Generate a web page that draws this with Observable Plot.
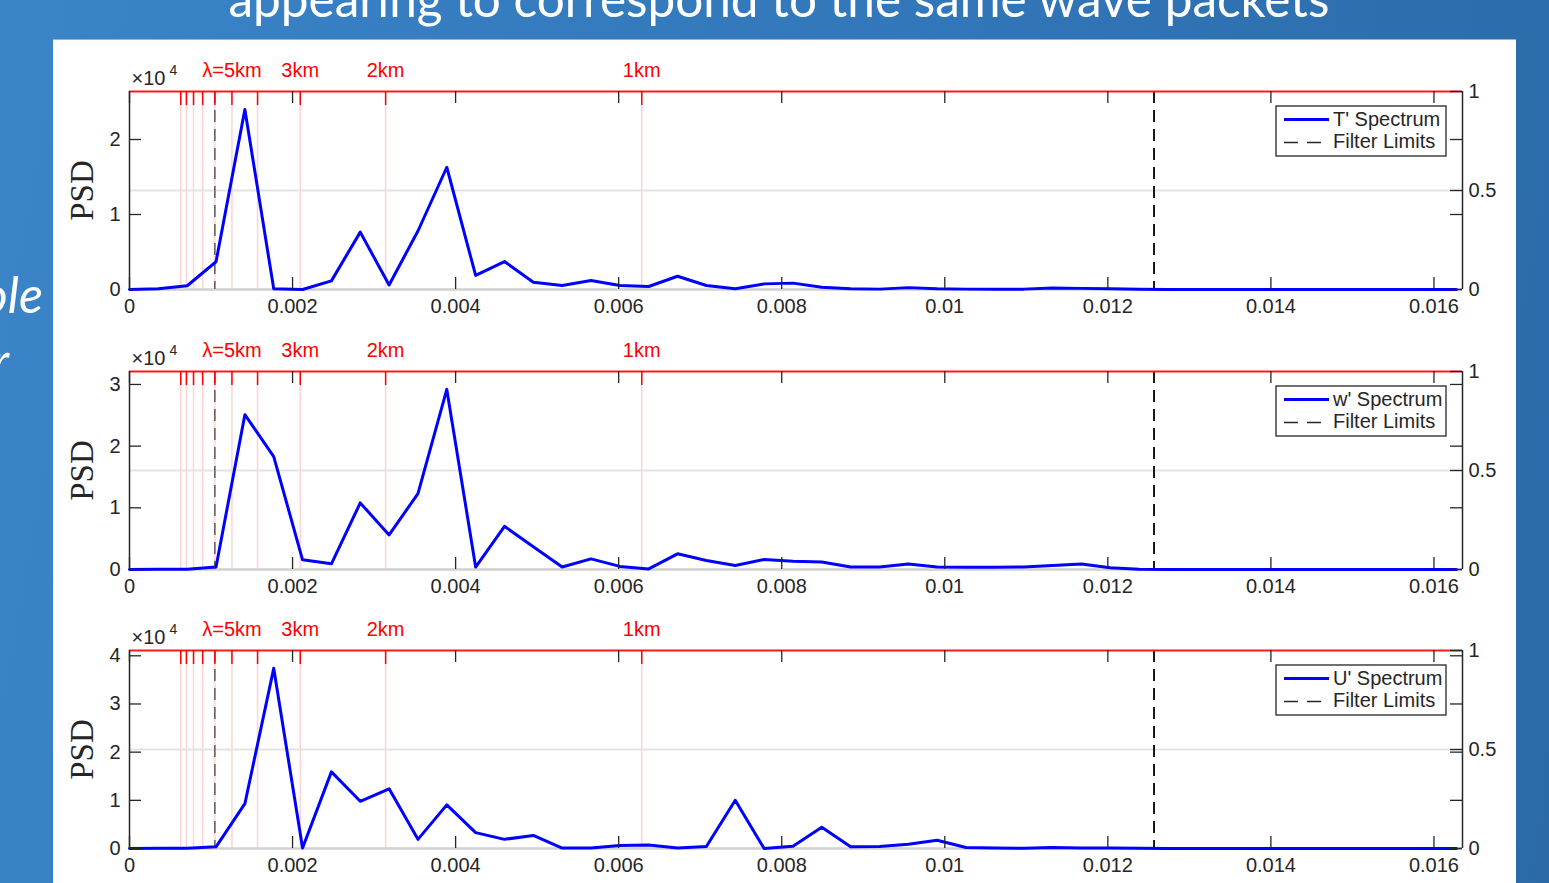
<!DOCTYPE html>
<html>
<head>
<meta charset="utf-8">
<script src="https://cdn.jsdelivr.net/npm/d3@7"></script>
<script src="https://cdn.jsdelivr.net/npm/@observablehq/plot@0.6"></script>
<style>
  html, body { margin: 0; padding: 0; }
  body {
    width: 1549px; height: 883px; overflow: hidden; position: relative;
    background: linear-gradient(100deg, #3a84c7 0%, #3278bb 50%, #2b6aa7 100%);
    font-family: "Liberation Sans", Arial, sans-serif;
  }
  #slide { position: absolute; left: 0; top: 0; }
  #panel { position: absolute; left: 53px; top: 40px; width: 1463px; height: 843px; background: #fff; box-shadow: 0 -1px 0 #8fb6de; }
  .spec { position: absolute; left: 0; width: 1463px; height: 280px; }
  .spec svg { overflow: visible; }
</style>
</head>
<body>
<svg id="slide" width="1549" height="883">
  <text x="779" y="17" text-anchor="middle" font-family="Lato, 'Open Sans', sans-serif" font-size="50" fill="#fff"
        textLength="1101" lengthAdjust="spacingAndGlyphs">appearing to correspond to the same wave packets</text>
  <text x="43" y="313" text-anchor="end" font-family="Lato, 'Open Sans', sans-serif" font-style="italic" font-size="50" fill="#fff">ole</text>
  <text x="9" y="379" text-anchor="end" font-family="Lato, 'Open Sans', sans-serif" font-style="italic" font-size="50" fill="#fff">r</text>
</svg>
<div id="panel">
  <div class="spec" id="spec0" style="top:0px"></div>
  <div class="spec" id="spec1" style="top:280px"></div>
  <div class="spec" id="spec2" style="top:559px"></div>
</div>
<script>
// Horizontal wavenumber k (rad/m) of each spectral estimate
const k = [
  0, 0.0003538, 0.0007076, 0.0010614, 0.0014152, 0.001769, 0.0021228, 0.0024766,
  0.0028304, 0.0031842, 0.003538, 0.0038918, 0.0042456, 0.0045994, 0.0049532, 0.005307,
  0.0056608, 0.0060146, 0.0063684, 0.0067222, 0.007076, 0.0074298, 0.0077836, 0.0081374,
  0.0084912, 0.008845, 0.0091988, 0.0095526, 0.0099064, 0.0102602, 0.010614, 0.0109678,
  0.0113216, 0.0116754, 0.0120292, 0.012383, 0.0127368, 0.0130906, 0.0134444, 0.0137982,
  0.014152, 0.0145058, 0.0148596, 0.0152134, 0.0155672, 0.015921, 0.0162748
];

// PSD values, in units of 10^4
const psdT = [
  0, 0.01, 0.05, 0.37, 2.40, 0.01, 0, 0.115, 0.765, 0.06, 0.78, 1.63, 0.187, 0.373, 0.097, 0.053,
  0.12, 0.053, 0.04, 0.177, 0.053, 0.01, 0.075, 0.085, 0.03, 0.01, 0.005, 0.025, 0.01, 0.005, 0.005, 0.005,
  0.02, 0.015, 0.01, 0.002, 0, 0, 0, 0, 0, 0, 0, 0, 0, 0, 0
];
const psdW = [
  0, 0.003, 0.005, 0.04, 2.51, 1.83, 0.157, 0.092, 1.08, 0.56, 1.23, 2.92, 0.04, 0.70, 0.37, 0.04,
  0.173, 0.05, 0.01, 0.254, 0.146, 0.065, 0.162, 0.135, 0.123, 0.04, 0.04, 0.09, 0.04, 0.035, 0.035, 0.04,
  0.065, 0.09, 0.03, 0.005, 0, 0, 0, 0, 0, 0, 0, 0, 0, 0, 0
];
const psdU = [
  0, 0.003, 0.005, 0.035, 0.93, 3.74, 0.01, 1.59, 0.98, 1.24, 0.19, 0.905, 0.33, 0.19, 0.27, 0.01,
  0.01, 0.06, 0.075, 0.01, 0.04, 1.0, 0, 0.045, 0.44, 0.035, 0.04, 0.09, 0.17, 0.02, 0.01, 0.005,
  0.02, 0.01, 0.01, 0.005, 0, 0, 0, 0, 0, 0, 0, 0, 0, 0, 0
];

const seriesNames = ["T'", "w'", "U'"];
const yMaxes = [2.64, 3.21, 4.11];
const yTickSets = [[0, 1, 2], [0, 1, 2, 3], [0, 1, 2, 3, 4]];
const rightTicks = [0, 0.5, 1];
const xMax = 0.01635;
const xTicks = [0, 0.002, 0.004, 0.006, 0.008, 0.01, 0.012, 0.014, 0.016];

// Wavelength markers (km) along the top axis, and the labelled ones
const lambdaKm = [10, 9, 8, 7, 6, 5, 4, 3, 2, 1];
const lambdaLabelKm = [5, 3, 2, 1];
const lambdaLabelText = ["\u03bb=5km", "3km", "2km", "1km"];
// Band-pass filter limits (km): long-wave and short-wave cut-offs
const filterLongKm = [6];
const filterShortKm = [0.5];

const toK = km => 2 * Math.PI / (km * 1000);

const W = 1463, H = 280;
const mL = 76, mR = 54, mT = 51, mB = 31;
const fw = W - mL - mR, fh = H - mT - mB;
const ink = "#262626";

function spectrum(values, yMax, yTicks, name) {
  const rows = k.map((kk, i) => ({k: kk, psd: values[i]}));
  const labels = lambdaLabelKm.map((km, i) => ({km, label: lambdaLabelText[i]}));
  const svg = Plot.plot({
    width: W, height: H,
    marginLeft: mL, marginRight: mR, marginTop: mT, marginBottom: mB,
    x: {domain: [0, xMax]},
    y: {domain: [0, yMax]},
    style: {background: "transparent", fontFamily: "'Liberation Sans', Arial, sans-serif", fontSize: "20px", color: ink, overflow: "visible"},
    marks: [
      Plot.ruleX(lambdaKm, {x: toK, stroke: "#ffd3d3", strokeWidth: 1.5}),
      Plot.ruleY([yMax / 2], {stroke: "#e3e3e3", strokeWidth: 2}),
      Plot.ruleY([0], {stroke: "#d0d0d0", strokeWidth: 2.5}),
      Plot.ruleX(filterLongKm, {x: toK, stroke: "#3a3a3a", strokeWidth: 1.2, strokeDasharray: "12,7"}),
      Plot.ruleX(filterShortKm, {x: toK, stroke: "#000", strokeWidth: 1.8, strokeDasharray: "12,7"}),
      Plot.line(rows, {x: "k", y: "psd", stroke: "#0000ff", strokeWidth: 3}),
      // box edges
      Plot.ruleX([0], {stroke: ink, strokeWidth: 1.5}),
      Plot.ruleX([xMax], {stroke: ink, strokeWidth: 1.5}),
      Plot.ruleY([yMax], {stroke: "#ff1a1a", strokeWidth: 2}),
      // inward ticks
      Plot.tickX(xTicks, {x: d => d, stroke: ink, strokeWidth: 1.3, insetTop: fh - 12}),
      Plot.tickX(xTicks, {x: d => d, stroke: ink, strokeWidth: 1.3, insetBottom: fh - 12}),
      Plot.tickX(lambdaKm, {x: toK, stroke: "#ff0000", strokeWidth: 1.5, insetBottom: fh - 14}),
      Plot.tickY(yTicks, {y: d => d, stroke: ink, strokeWidth: 1.3, insetRight: fw - 12}),
      Plot.tickY(yTicks, {y: d => d, stroke: ink, strokeWidth: 1.3, insetLeft: fw - 12}),
      Plot.tickY(rightTicks.map(r => r * yMax), {y: d => d, stroke: ink, strokeWidth: 1.3, insetLeft: fw - 12}),
      // axes labels
      Plot.axisX(xTicks, {tickSize: 0, tickPadding: 9, fontSize: 20, fill: ink, label: null,
        tickFormat: d => String(+d.toFixed(3))}),
      Plot.axisY(yTicks, {anchor: "left", tickSize: 0, tickPadding: 9, fontSize: 20, fill: ink, label: null,
        tickFormat: d => String(d)}),
      Plot.axisY(rightTicks.map(r => r * yMax), {anchor: "right", tickSize: 0, tickPadding: 6, fontSize: 20, fill: ink, label: null,
        tickFormat: d => String(+(d / yMax).toFixed(2))}),
      Plot.text(labels, {x: d => toK(d.km), text: "label", frameAnchor: "top", lineAnchor: "middle", dy: -21, fill: "#ff0000", fontSize: 20}),
      Plot.text(["\u00d710"], {text: d => d, frameAnchor: "top-left", lineAnchor: "middle", textAnchor: "start", dx: 2, dy: -13, fontSize: 20, fill: ink}),
      Plot.text(["4"], {text: d => d, frameAnchor: "top-left", lineAnchor: "middle", textAnchor: "start", dx: 40, dy: -21, fontSize: 14, fill: ink}),
      Plot.text(["PSD"], {text: d => d, frameAnchor: "left", textAnchor: "middle", lineAnchor: "middle", dx: -47, rotate: -90, fontSize: 33,
        fontFamily: "'Liberation Serif', 'Times New Roman', serif", fill: ink})
    ]
  });

  // legend box in the upper right corner
  const g = d3.select(svg).append("g")
    .attr("transform", `translate(${mL + fw - 186},${mT + 15})`)
    .attr("text-anchor", "start");
  g.append("rect").attr("x", 0).attr("y", 0).attr("width", 170).attr("height", 50)
    .attr("fill", "#fff").attr("stroke", ink).attr("stroke-width", 1.3);
  g.append("line").attr("x1", 8).attr("x2", 53).attr("y1", 13.5).attr("y2", 13.5)
    .attr("stroke", "#0000ff").attr("stroke-width", 3);
  g.append("text").attr("x", 57).attr("y", 19.5).attr("font-size", 20).attr("fill", ink)
    .attr("text-anchor", "start").text(`${name} Spectrum`);
  g.append("line").attr("x1", 8).attr("x2", 46).attr("y1", 36.5).attr("y2", 36.5)
    .attr("stroke", ink).attr("stroke-width", 1.5).attr("stroke-dasharray", "14,9");
  g.append("text").attr("x", 57).attr("y", 42).attr("font-size", 20).attr("fill", ink)
    .attr("text-anchor", "start").text("Filter Limits");
  return svg;
}

const sets = [psdT, psdW, psdU];
sets.forEach((vals, i) => {
  document.getElementById(`spec${i}`).appendChild(spectrum(vals, yMaxes[i], yTickSets[i], seriesNames[i]));
});
</script>
</body>
</html>
